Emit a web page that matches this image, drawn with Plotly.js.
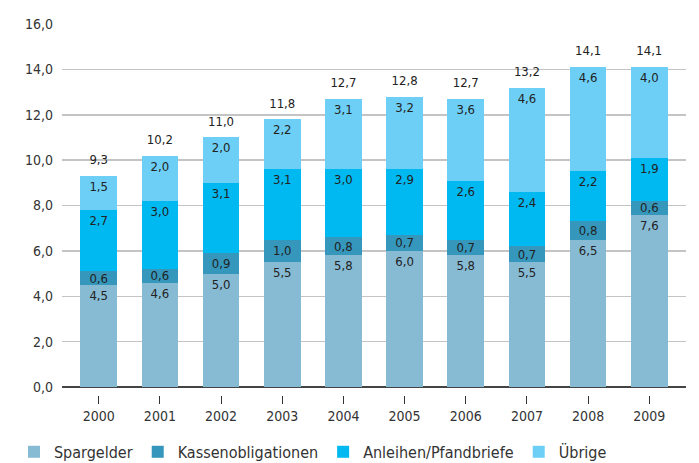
<!DOCTYPE html>
<html>
<head>
<meta charset="utf-8">
<script src="https://cdn.plot.ly/plotly-3.0.1.min.js"></script>
<style>html,body{margin:0;padding:0;background:#fff;}#chart{width:699px;height:463px;}</style>
</head>
<body>
<div id="chart"></div>
<script>
const years = ['2000','2001','2002','2003','2004','2005','2006','2007','2008','2009'];
const spargelder = [4.5,4.6,5.0,5.5,5.8,6.0,5.8,5.5,6.5,7.6];
const kassenobligationen = [0.6,0.6,0.9,1.0,0.8,0.7,0.7,0.7,0.8,0.6];
const anleihen = [2.7,3.0,3.1,3.1,3.0,2.9,2.6,2.4,2.2,1.9];
const uebrige = [1.5,2.0,2.0,2.2,3.1,3.2,3.6,4.6,4.6,4.0];
const totals = [9.3,10.2,11.0,11.8,12.7,12.8,12.7,13.2,14.1,14.1];
const seriesNames = ['Spargelder','Kassenobligationen','Anleihen/Pfandbriefe','Übrige'];
const yTicks = [0,2,4,6,8,10,12,14,16];

const FONT = '"DejaVu Sans Condensed", "Liberation Sans Narrow", "Noto Sans", sans-serif';
const colors = ['#87BBD4','#3597BC','#00B9F1','#6DCFF6'];
const series = [spargelder, kassenobligationen, anleihen, uebrige];
const fmt = v => v.toFixed(1).replace('.', ',');

const traces = series.map((vals, i) => ({
  type: 'bar',
  x: years,
  y: vals,
  name: seriesNames[i],
  marker: {color: colors[i], line: {width: 0}},
  text: vals.map(fmt),
  textposition: 'inside',
  insidetextanchor: i === 1 ? 'middle' : 'end',
  constraintext: 'none',
  textfont: {family: FONT, size: 13, color: '#222'},
  hoverinfo: 'skip'
}));

traces.push({
  type: 'scatter', mode: 'markers+text',
  x: years, y: totals,
  text: totals.map(fmt),
  textposition: 'top center',
  marker: {size: 12, color: 'rgba(0,0,0,0)'},
  textfont: {family: FONT, size: 13, color: '#222'},
  showlegend: false, hoverinfo: 'skip', cliponaxis: false
});

const layout = {
  width: 699, height: 463,
  margin: {l: 62, r: 13, t: 24, b: 68},
  barmode: 'stack',
  bargap: 0.4,
  separators: ',.',
  paper_bgcolor: '#fff', plot_bgcolor: '#fff',
  font: {family: FONT, color: '#333'},
  showlegend: true,
  legend: {
    orientation: 'h', xref: 'container', yref: 'container',
    x: 0.02, y: 0.024, xanchor: 'left', yanchor: 'middle',
    font: {family: FONT, size: 16, color: '#333'},
    traceorder: 'normal', itemwidth: 30
  },
  xaxis: {
    type: 'category', range: [-0.6, 9.6],
    showgrid: false, showline: false, zeroline: false,
    ticks: 'outside', ticklen: 8, tickcolor: '#333', tickwidth: 1,
    tickfont: {family: FONT, size: 14, color: '#333'}
  },
  yaxis: {
    range: [-0.35, 16], tickvals: yTicks, tickformat: '.1f',
    showgrid: true, gridcolor: '#C4C4C4', gridwidth: 1.5,
    zeroline: true, zerolinecolor: '#444', zerolinewidth: 1.5,
    showline: false, ticks: '', ticklabelstandoff: 8,
    tickfont: {family: FONT, size: 14, color: '#333'}
  }
};

Plotly.newPlot('chart', traces, layout, {displayModeBar: false, staticPlot: true});
</script>
</body>
</html>
